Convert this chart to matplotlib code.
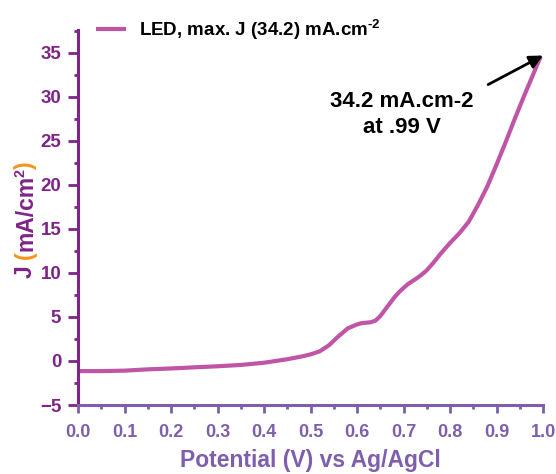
import matplotlib
matplotlib.use("Agg")
import matplotlib.pyplot as plt
from matplotlib.ticker import MultipleLocator

plt.rcParams['font.family'] = ['Liberation Sans', 'DejaVu Sans']
plt.rcParams['font.weight'] = 'bold'
plt.rcParams['mathtext.fontset'] = 'custom'
plt.rcParams['mathtext.rm'] = 'Liberation Sans:bold'
plt.rcParams['mathtext.bf'] = 'Liberation Sans:bold'
plt.rcParams['mathtext.it'] = 'Liberation Sans:bold'
plt.rcParams['mathtext.default'] = 'bf'

potential = [0.0, 0.05, 0.1, 0.15, 0.2, 0.25, 0.3, 0.35, 0.4, 0.45, 0.48, 0.5,
             0.52, 0.54, 0.56, 0.58, 0.6, 0.61, 0.62, 0.63, 0.64, 0.65, 0.66,
             0.67, 0.68, 0.69, 0.7, 0.71, 0.72, 0.73, 0.74, 0.75, 0.765, 0.78,
             0.8, 0.82, 0.84, 0.86, 0.88, 0.9, 0.92, 0.94, 0.96, 0.98, 0.995]
current = [-1.15, -1.15, -1.1, -0.95, -0.85, -0.72, -0.6, -0.45, -0.2, 0.2,
           0.5, 0.75, 1.1, 1.8, 2.8, 3.7, 4.15, 4.3, 4.35, 4.4, 4.6, 5.1, 5.8,
           6.5, 7.2, 7.8, 8.3, 8.75, 9.1, 9.45, 9.85, 10.3, 11.2, 12.2,
           13.4, 14.5, 15.8, 17.7, 19.8, 22.3, 24.9, 27.6, 30.2, 32.7, 34.6]
series_label = r"LED, max. J (34.2) mA.cm$^{\text{-2}}$"
note_text = "34.2 mA.cm-2\nat .99 V"

curve_color = '#c055a8'
ypurple = '#7f2488'
xpurple = '#7e5fad'
orange = '#f7941d'

fig = plt.figure(figsize=(5.56, 4.74), dpi=100)
ax = fig.add_axes([78/556, 1-405/474, (543-78)/556, (405-30)/474])

ax.plot(potential, current, color=curve_color, lw=3.0, label=series_label,
        solid_joinstyle='round', solid_capstyle='butt')

ax.set_xlim(0, 1.0)
ax.set_ylim(-5, 37.6)
ax.xaxis.set_minor_locator(MultipleLocator(0.05))
ax.yaxis.set_major_locator(MultipleLocator(5))
ax.yaxis.set_minor_locator(MultipleLocator(2.5))
ax.set_xticks([i/10 for i in range(11)])
ax.set_xticklabels([f"{i/10:.1f}" for i in range(11)])

for s in ['top', 'right']:
    ax.spines[s].set_visible(False)
ax.spines['left'].set_color(ypurple)
ax.spines['left'].set_linewidth(2.2)
ax.spines['bottom'].set_color(xpurple)
ax.spines['bottom'].set_linewidth(2.2)

ax.tick_params(axis='x', which='major', direction='out', length=6, width=2,
               color=xpurple, labelcolor=xpurple, labelsize=13, pad=8)
ax.tick_params(axis='x', which='minor', direction='out', length=3, width=2,
               color=xpurple)
ax.tick_params(axis='y', which='major', direction='out', length=7, width=2,
               color=ypurple, labelcolor=ypurple, labelsize=13.5, pad=5)
ax.tick_params(axis='y', which='minor', direction='out', length=3, width=2,
               color=ypurple)
for lab in ax.get_xticklabels() + ax.get_yticklabels():
    lab.set_fontweight('bold')

fig.text(310/556, 1-467/474, "Potential (V) vs Ag/AgCl", color=xpurple,
         fontsize=16.5, fontweight='bold', ha='center', va='baseline')

# multi-coloured y label
fs = 16.5
t1 = fig.text(37/556, 1-278/474, "J ", color=ypurple, rotation=90,
              fontsize=fs, fontweight='bold', ha='right', va='bottom')
t2 = ax.annotate("(", xy=(1, 1), xycoords=t1, color=orange, rotation=90,
                 fontsize=fs, fontweight='bold', ha='right', va='bottom',
                 annotation_clip=False)
t3 = ax.annotate("mA/cm", xy=(1, 1), xycoords=t2, color=ypurple, rotation=90,
                 fontsize=fs, fontweight='bold', ha='right', va='bottom',
                 annotation_clip=False)
t4 = ax.annotate("2", xy=(0, 1), xycoords=t3, xytext=(0, -1),
                 textcoords='offset points', color=ypurple, rotation=90,
                 fontsize=fs*0.62, fontweight='bold', ha='left', va='bottom',
                 annotation_clip=False)
t5 = ax.annotate(")", xy=(1, 1), xycoords=(t3, t4), color=orange, rotation=90,
                 fontsize=fs, fontweight='bold', ha='right', va='bottom',
                 annotation_clip=False)

leg = ax.legend(loc='center left', bbox_to_anchor=(96/556, 1-30/474),
                bbox_transform=fig.transFigure, frameon=False, borderpad=0,
                borderaxespad=0, handlelength=1.6, handletextpad=0.7,
                prop={'size': 13.5, 'weight': 'bold'})
for line in leg.get_lines():
    line.set_linewidth(3.0)

ax.annotate("", xy=(1.0, 34.7), xytext=(0.882, 31.4),
            arrowprops=dict(arrowstyle='-|>', color='black', lw=2,
                            mutation_scale=20, shrinkA=0, shrinkB=0),
            annotation_clip=False)
ax.text(0.697, 28.0, note_text, ha='center', va='center', fontsize=16,
        fontweight='bold', color='black', linespacing=1.3)

fig.savefig("out.png", dpi=100)
